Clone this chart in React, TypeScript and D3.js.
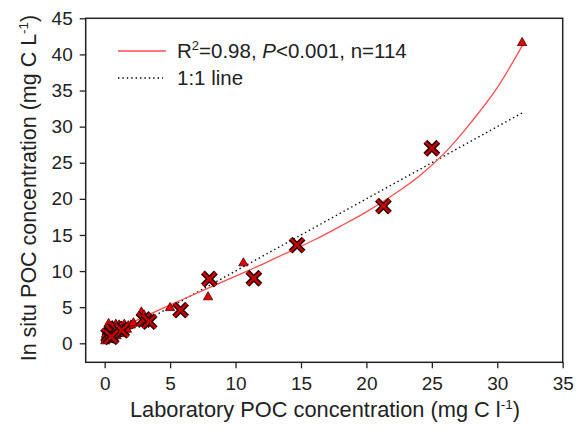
import React, { Component } from 'react';
import * as d3 from 'd3';

// scatter markers (laboratory x, in situ y)
const crossX = [0.3, 0.6, 0.9, 1.3, 0.5, 3.0, 3.4, 5.8, 8.0, 11.4, 14.7, 21.3, 25.0];
const crossY = [1.1, 1.6, 2.0, 1.8, 0.9, 3.3, 3.0, 4.6, 8.9, 9.0, 13.6, 19.0, 27.0];

const triX = [0.1, 0.15, 0.2, 0.2, 0.25, 0.3, 0.3, 0.35, 0.4, 0.4, 0.45, 0.5, 0.5, 0.55, 0.6, 0.6, 0.7, 0.7,
    0.75, 0.8, 0.85, 0.9, 0.95, 1.0, 1.05, 1.1, 1.2, 1.3, 1.4, 1.5, 1.6, 1.8, 2.0, 0.15, 0.25, 0.35, 0.65, 0.9,
    0.05, 0.1, 0.2, 0.45, 0.3, 1.15, 1.7, 2.2,
    2.8, 3.0, 3.2, 5.0, 7.9, 10.6, 31.9];
const triY = [0.6, 1.0, 0.8, 1.4, 1.9, 1.1, 2.3, 0.9, 1.5, 1.8, 1.2, 2.0, 1.0, 1.6, 2.4, 1.3, 1.7, 2.1,
    1.1, 1.5, 2.6, 1.9, 1.4, 2.2, 1.7, 2.5, 1.9, 2.3, 2.0, 2.6, 2.2, 2.4, 2.5, 1.6, 0.5, 2.1, 0.8, 1.0,
    0.3, 1.2, 2.0, 0.7, 2.7, 1.3, 1.9, 2.8,
    4.3, 3.9, 3.4, 4.9, 6.4, 11.1, 41.6];

// fitted curve
const fitX = [0, 2, 4, 6, 8, 10, 12, 14, 16, 18, 20, 22, 24, 26, 28, 30, 32];
const fitY = [1.0, 2.8, 4.5, 6.1, 7.7, 9.3, 10.9, 12.6, 14.3, 16.2, 18.2, 20.5, 23.1, 26.4, 30.6, 35.4, 41.5];

// 1:1 line ends
const oneX = [0, 32];

const xTicks = [0, 5, 10, 15, 20, 25, 30, 35];
const yTicks = [0, 5, 10, 15, 20, 25, 30, 35, 40, 45];

const FONT = 'Liberation Sans, Arial, sans-serif';

class App extends Component {
    chRef = React.createRef<SVGSVGElement>();

    componentDidMount() {
        const svg = d3.select(this.chRef.current);
        svg.selectAll('*').remove();

        const left = 85.7, right = 562.7, top = 18.3, bottom = 362.3;

        const x = d3.scaleLinear().domain([-1.45, 35]).range([left, right]);
        const y = d3.scaleLinear().domain([-2.63, 45]).range([bottom, top]);

        // frame
        svg.append('rect')
            .attr('x', left).attr('y', top)
            .attr('width', right - left).attr('height', bottom - top)
            .attr('fill', 'none').attr('stroke', '#222').attr('stroke-width', 1.5);

        // x axis
        const gx = svg.append('g')
            .attr('transform', 'translate(0,' + bottom + ')')
            .call(d3.axisBottom(x).tickValues(xTicks).tickSize(6).tickPadding(8));
        gx.select('.domain').remove();
        gx.selectAll('line').attr('stroke', '#222').attr('stroke-width', 1.3);
        gx.selectAll('text').attr('font-family', FONT).attr('font-size', 19).attr('fill', '#222');

        // y axis
        const gy = svg.append('g')
            .attr('transform', 'translate(' + left + ',0)')
            .call(d3.axisLeft(y).tickValues(yTicks).tickSize(6).tickPadding(7));
        gy.select('.domain').remove();
        gy.selectAll('line').attr('stroke', '#222').attr('stroke-width', 1.3);
        gy.selectAll('text').attr('font-family', FONT).attr('font-size', 19).attr('fill', '#222');

        // 1:1 line
        svg.append('path')
            .datum(oneX)
            .attr('d', d3.line<number>().x(d => x(d)).y(d => y(d)))
            .attr('fill', 'none').attr('stroke', '#000')
            .attr('stroke-width', 1.4).attr('stroke-dasharray', '1.4,3');

        // fit curve
        const fit = fitX.map((v, i) => [v, fitY[i]] as [number, number]);
        svg.append('path')
            .datum(fit)
            .attr('d', d3.line<[number, number]>().x(d => x(d[0])).y(d => y(d[1])).curve(d3.curveMonotoneX))
            .attr('fill', 'none').attr('stroke', '#ff4d4d').attr('stroke-width', 1.3);

        // triangles
        const tri = d3.symbol().type(d3.symbolTriangle).size(38);
        svg.append('g').selectAll('path')
            .data(triX.map((v, i) => [v, triY[i]]))
            .enter()
            .append('path')
            .attr('d', tri)
            .attr('transform', d => 'translate(' + x(d[0]) + ',' + y(d[1]) + ')')
            .attr('fill', '#e00000').attr('stroke', '#4a0000').attr('stroke-width', 0.8);

        // crosses
        const cross = 'M-6.5,-6.5L6.5,6.5M6.5,-6.5L-6.5,6.5';
        const cg = svg.append('g').selectAll('g')
            .data(crossX.map((v, i) => [v, crossY[i]]))
            .enter()
            .append('g')
            .attr('transform', d => 'translate(' + x(d[0]) + ',' + y(d[1]) + ')');
        cg.append('path').attr('d', cross).attr('stroke', '#220000').attr('stroke-width', 5.5);
        cg.append('path').attr('d', cross).attr('stroke', '#c40000').attr('stroke-width', 2.6);

        // legend
        svg.append('line').attr('x1', 118).attr('x2', 166).attr('y1', 51).attr('y2', 51)
            .attr('stroke', '#ff4d4d').attr('stroke-width', 1.3);
        svg.append('line').attr('x1', 118).attr('x2', 163).attr('y1', 78).attr('y2', 78)
            .attr('stroke', '#000').attr('stroke-width', 1.4).attr('stroke-dasharray', '1.4,3');

        const t1 = svg.append('text').attr('x', 177).attr('y', 58)
            .attr('font-family', FONT).attr('font-size', 20.5).attr('fill', '#222');
        t1.append('tspan').text('R');
        t1.append('tspan').attr('font-size', 13).attr('dy', -8).text('2');
        t1.append('tspan').attr('dy', 8).text('=0.98, ');
        t1.append('tspan').attr('font-style', 'italic').text('P');
        t1.append('tspan').text('<0.001, n=114');

        svg.append('text').attr('x', 177).attr('y', 85)
            .attr('font-family', FONT).attr('font-size', 20.5).attr('fill', '#222')
            .text('1:1 line');

        // axis titles
        const xt = svg.append('text').attr('x', 325).attr('y', 417).attr('text-anchor', 'middle')
            .attr('font-family', FONT).attr('font-size', 21.8).attr('fill', '#222');
        xt.append('tspan').text('Laboratory POC concentration (mg C l');
        xt.append('tspan').attr('font-size', 13.5).attr('dy', -8).text('-1');
        xt.append('tspan').attr('dy', 8).text(')');

        const yt = svg.append('text')
            .attr('transform', 'translate(36,188)rotate(-90)')
            .attr('text-anchor', 'middle')
            .attr('font-family', FONT).attr('font-size', 21.5).attr('fill', '#222');
        yt.append('tspan').text('In situ POC concentration (mg C L');
        yt.append('tspan').attr('font-size', 13.5).attr('dy', -8).text('-1');
        yt.append('tspan').attr('dy', 8).text(')');
    }

    render() {
        return (
            <svg ref={this.chRef} width={576} height={438}
                style={{ position: 'absolute', left: 0, top: 0, background: '#fff' }} />
        );
    }
}

export default App;
